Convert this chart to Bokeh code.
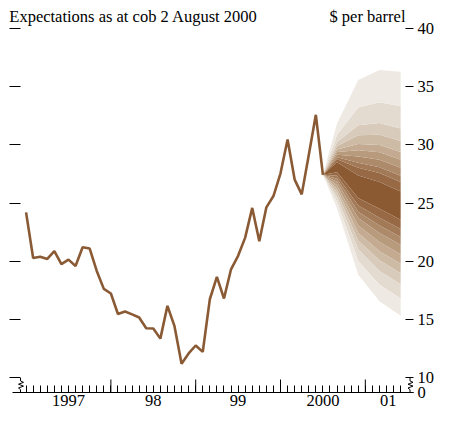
from bokeh.plotting import figure
from bokeh.models import LinearAxis, FixedTicker, Range1d
from bokeh.embed import file_html
from bokeh.resources import INLINE

# ---- data ----
title_text = "Expectations as at cob 2 August 2000"
unit_text = "$ per barrel"

# monthly oil price, Jan 1997 .. Jul 2000
price_start_year = 1997
price = [24.22, 20.30, 20.41, 20.22, 20.89, 19.78, 20.16, 19.62, 21.22, 21.11, 19.19, 17.65,
         17.25, 15.49, 15.71, 15.46, 15.19, 14.27, 14.25, 13.38, 16.19, 14.45, 11.23, 12.11,
         12.79, 12.24, 16.76, 18.68, 16.82, 19.33, 20.49, 22.05, 24.60, 21.73, 24.65, 25.62,
         27.57, 30.48, 27.03, 25.76, 29.14, 32.59, 27.44]

# fan chart nodes (year, month)
fan_dates = [(2000, 7), (2000, 9), (2000, 12), (2001, 3), (2001, 6)]
# boundaries, inner -> outer
fan_upper = [
    [27.44, 28.51, 27.38, 26.82, 26.00],
    [27.44, 28.77, 28.04, 27.60, 26.83],
    [27.44, 28.95, 28.47, 28.10, 27.37],
    [27.44, 29.17, 29.01, 28.74, 28.05],
    [27.44, 29.39, 29.55, 29.37, 28.73],
    [27.44, 29.61, 30.08, 29.99, 29.40],
    [27.44, 29.92, 30.84, 30.89, 30.35],
    [27.44, 30.26, 31.70, 31.89, 31.42],
    [27.44, 30.88, 33.21, 33.66, 33.32],
    [27.44, 31.84, 35.57, 36.44, 36.29],
]
fan_lower = [
    [27.44, 27.66, 25.46, 24.53, 23.59],
    [27.44, 27.35, 24.81, 23.75, 22.78],
    [27.44, 27.10, 24.27, 23.10, 22.10],
    [27.44, 26.84, 23.73, 22.45, 21.43],
    [27.44, 26.54, 23.08, 21.67, 20.62],
    [27.44, 26.23, 22.44, 20.88, 19.81],
    [27.44, 25.92, 21.79, 20.10, 19.00],
    [27.44, 25.56, 21.03, 19.18, 18.05],
    [27.44, 25.10, 20.05, 18.01, 16.83],
    [27.44, 24.54, 18.87, 16.58, 15.35],
]
band_colors = ["#8b5a33", "#976a45", "#a27a57", "#ad8a6a", "#b89a7d",
               "#c3aa91", "#cebba6", "#d9cbbb", "#e4dbd0", "#efe9e3"]

year_ticks = [1998, 1999, 2000, 2001]
year_label_pos = [1997.5, 1998.5, 1999.5, 2000.5, 2001.27]
year_labels = ["1997", "98", "99", "2000", "01"]
y_ticks = [10, 15, 20, 25, 30, 35, 40]
y_labels = ["10", "15", "20", "25", "30", "35", "40"]
y_bottom_label = "0"

# ---- layout ----
FONT = "Liberation Serif"
W, H = 437, 418
BL, BR, BT, BB = 12, 24, 28, 26
x0, x1 = 1996.84, 2001.568
y0, y1 = 8.755, 40.0
frame_w = W - BL - BR
frame_h = H - BT - BB
dxp = (x1 - x0) / frame_w
dyp = (y1 - y0) / frame_h

p = figure(width=W, height=H, x_range=Range1d(x0, x1), y_range=Range1d(y0, y1),
           output_backend="svg", toolbar_location=None,
           x_axis_location=None, y_axis_location=None,
           min_border_left=BL, min_border_right=BR, min_border_top=BT, min_border_bottom=BB)
p.outline_line_color = None
p.background_fill_color = "white"
p.border_fill_color = "white"
p.grid.visible = False

def dec(ym):
    return ym[0] + (ym[1] - 1) / 12.0

px = [price_start_year + i / 12.0 for i in range(len(price))]
fx = [dec(d) for d in fan_dates]

# fan bands
p.varea(x=fx, y1=fan_lower[0], y2=fan_upper[0], fill_color=band_colors[0])
for k in range(1, len(fan_upper)):
    p.varea(x=fx, y1=fan_upper[k - 1], y2=fan_upper[k], fill_color=band_colors[k])
    p.varea(x=fx, y1=fan_lower[k], y2=fan_lower[k - 1], fill_color=band_colors[k])

p.line(px, price, line_color="#8a5a35", line_width=2.6)

# bottom axis: monthly minor ticks, year labels centred in each year
minor = [1997 + m / 12.0 for m in range(0, 54)]
ax = LinearAxis(ticker=FixedTicker(ticks=year_label_pos, minor_ticks=minor))
ax.major_label_overrides = {v: t for v, t in zip(year_label_pos, year_labels)}
ax.major_tick_line_color = None
ax.major_tick_in = 0
ax.major_tick_out = 0
ax.minor_tick_in = 7
ax.minor_tick_out = 0
ax.minor_tick_line_color = "black"
ax.axis_line_color = "black"
ax.major_label_standoff = 2
ax.major_label_text_font = FONT
ax.major_label_text_font_size = "16.5px"
ax.major_label_text_color = "black"
p.add_layout(ax, "below")

# taller year-boundary ticks (pointing up from the axis)
p.segment(x0=year_ticks, y0=[y0] * len(year_ticks), x1=year_ticks,
          y1=[y0 + 13 * dyp] * len(year_ticks), line_color="black", line_width=1)

# left axis: ticks only
ayl = LinearAxis(ticker=FixedTicker(ticks=y_ticks, minor_ticks=[]))
ayl.axis_line_color = None
ayl.major_tick_in = 8
ayl.major_tick_out = 3
ayl.minor_tick_line_color = None
ayl.major_tick_line_color = "black"
ayl.major_label_text_font_size = "0px"
ayl.major_label_standoff = 0
p.add_layout(ayl, "left")

# right axis with labels
ay_ticks = [y0] + y_ticks
ayr = LinearAxis(ticker=FixedTicker(ticks=ay_ticks, minor_ticks=[]))
ayr.major_label_overrides = dict(zip(ay_ticks, [y_bottom_label] + y_labels))
ayr.axis_line_color = None
ayr.major_tick_in = 8
ayr.major_tick_out = 0
ayr.minor_tick_line_color = None
ayr.major_tick_line_color = "black"
ayr.major_label_standoff = 4
ayr.major_label_text_font = FONT
ayr.major_label_text_font_size = "16.5px"
ayr.major_label_text_color = "black"
p.add_layout(ayr, "right")

# top texts as labels of an "above" axis without ticks
title_pos = [x0 + (133 - BL) * dxp, x0 + (367 - BL) * dxp]
axt = LinearAxis(ticker=FixedTicker(ticks=title_pos, minor_ticks=[]))
axt.major_label_overrides = dict(zip(title_pos, [title_text, unit_text]))
axt.axis_line_color = None
axt.major_tick_line_color = None
axt.minor_tick_line_color = None
axt.major_tick_in = 0
axt.major_tick_out = 0
axt.major_label_standoff = 3
axt.major_label_text_font = FONT
axt.major_label_text_font_size = "16.5px"
axt.major_label_text_color = "black"
p.add_layout(axt, "above")

# axis-break zigzags
zz_dx = [0, 0, 3, -2, 3, -2, 0, 0]
zz_fr = [0, 0.2, 0.3, 0.43, 0.56, 0.69, 0.8, 1.0]
brk = y_ticks[0]
for cx in (x0 + 8 * dxp, x1 - 3.5 * dxp):
    p.line([cx + d * dxp for d in zz_dx], [brk - f * (brk - y0) for f in zz_fr],
           line_color="black", line_width=1)

open("out.html", "w").write(file_html(p, INLINE))
